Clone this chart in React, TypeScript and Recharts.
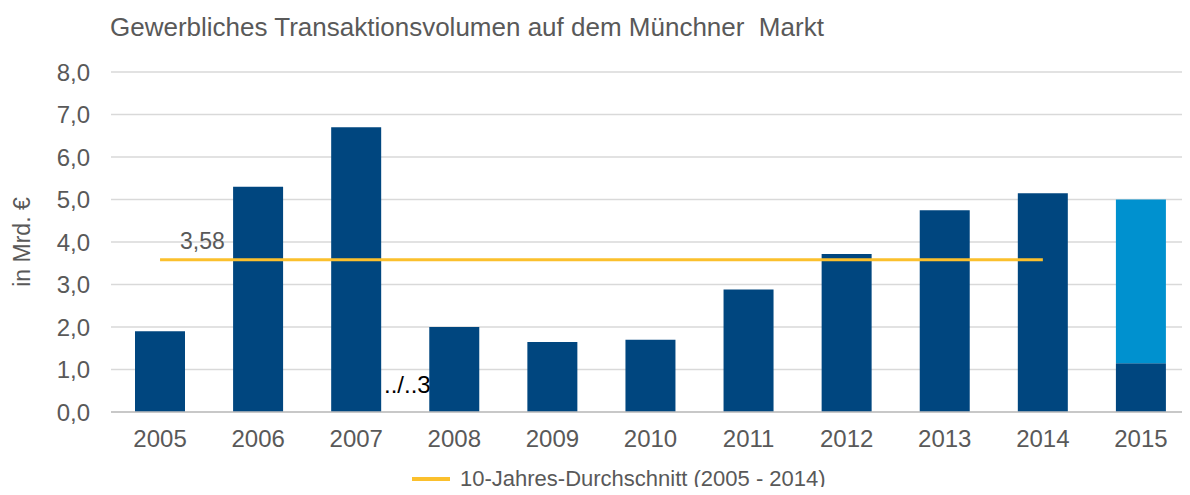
import { ComposedChart, Bar, Line, XAxis, YAxis, CartesianGrid, Legend } from 'recharts';

const years = ['2005', '2006', '2007', '2008', '2009', '2010', '2011', '2012', '2013', '2014', '2015'];
const volume = [1.9, 5.3, 6.7, 2.0, 1.65, 1.7, 2.88, 3.72, 4.75, 5.15, 1.15];
const volumeExtra = [null, null, null, null, null, null, null, null, null, null, 3.85];
const avg10 = [3.58, 3.58, 3.58, 3.58, 3.58, 3.58, 3.58, 3.58, 3.58, 3.58, null];
const yTicks = [0, 1, 2, 3, 4, 5, 6, 7, 8];

const data = years.map((year, i) => ({
  year,
  volume: volume[i],
  extra: volumeExtra[i],
  avg: avg10[i],
}));

const FONT = '"Liberation Sans", Arial, sans-serif';
const GREY = '#595959';
const DARK = '#00467F';
const LIGHT = '#0091CF';
const YELLOW = '#FBC02D';

const fmt = (v: number) => v.toFixed(1).replace('.', ',');

function AvgLabel(props: any) {
  const { x, y, index, value } = props;
  if (index !== 0 || value == null) return null;
  return (
    <text x={x + 20} y={y - 11} fill={GREY} fontSize={23} fontFamily={FONT}>
      {String(value).replace('.', ',')}
    </text>
  );
}

function LegendContent() {
  return (
    <div style={{ display: 'flex', alignItems: 'center', fontFamily: FONT, fontSize: 22, color: GREY }}>
      <span style={{ display: 'inline-block', width: 38, height: 4, background: YELLOW, marginRight: 10 }} />
      <span>10-Jahres-Durchschnitt (2005 - 2014)</span>
    </div>
  );
}

export default function App() {
  return (
    <div style={{ position: 'relative', width: 1190, height: 495, margin: -8, background: '#fff', overflow: 'hidden', fontFamily: FONT }}>
      {/* Title */}
      <div style={{ position: 'absolute', left: 110, top: 12, fontSize: 26, color: GREY, whiteSpace: 'pre' }}>
        Gewerbliches Transaktionsvolumen auf dem Münchner  Markt
      </div>

      {/* y axis title */}
      <div style={{
        position: 'absolute', left: 22, top: 242, fontSize: 23, color: GREY, whiteSpace: 'nowrap',
        transform: 'translate(-50%, -50%) rotate(-90deg)',
      }}>
        in Mrd. €
      </div>

      <ComposedChart
        width={1190}
        height={495}
        data={data}
        margin={{ top: 72, right: 0, bottom: 53, left: 0 }}
      >
        <CartesianGrid vertical={false} stroke="#D9D9D9" strokeWidth={1.5} />
        <XAxis
          dataKey="year"
          height={30}
          axisLine={{ stroke: '#BFBFBF', strokeWidth: 1.5 }}
          tickLine={false}
          tickMargin={12}
          tick={{ fill: GREY, fontSize: 24, fontFamily: FONT }}
        />
        <YAxis
          width={111}
          domain={[0, 8]}
          ticks={yTicks}
          tickFormatter={fmt}
          axisLine={false}
          tickLine={false}
          tickMargin={15}
          tick={{ fill: GREY, fontSize: 24, fontFamily: FONT }}
        />
        <Bar dataKey="volume" stackId="a" fill={DARK} barSize={50} legendType="none" isAnimationActive={false} />
        <Bar dataKey="extra" stackId="a" fill={LIGHT} barSize={50} legendType="none" isAnimationActive={false} />
        <Line
          dataKey="avg"
          stroke={YELLOW}
          strokeWidth={3}
          dot={false}
          activeDot={false}
          label={<AvgLabel />}
          isAnimationActive={false}
        />
        <Legend
          layout="vertical"
          align="center"
          verticalAlign="middle"
          content={<LegendContent />}
          wrapperStyle={{ top: 466, left: 412, width: 500 }}
        />
      </ComposedChart>

      {/* stray text from the original slide */}
      <div style={{ position: 'absolute', left: 384, top: 371, fontSize: 24, color: '#000', whiteSpace: 'nowrap' }}>
        ../..3
      </div>
    </div>
  );
}
